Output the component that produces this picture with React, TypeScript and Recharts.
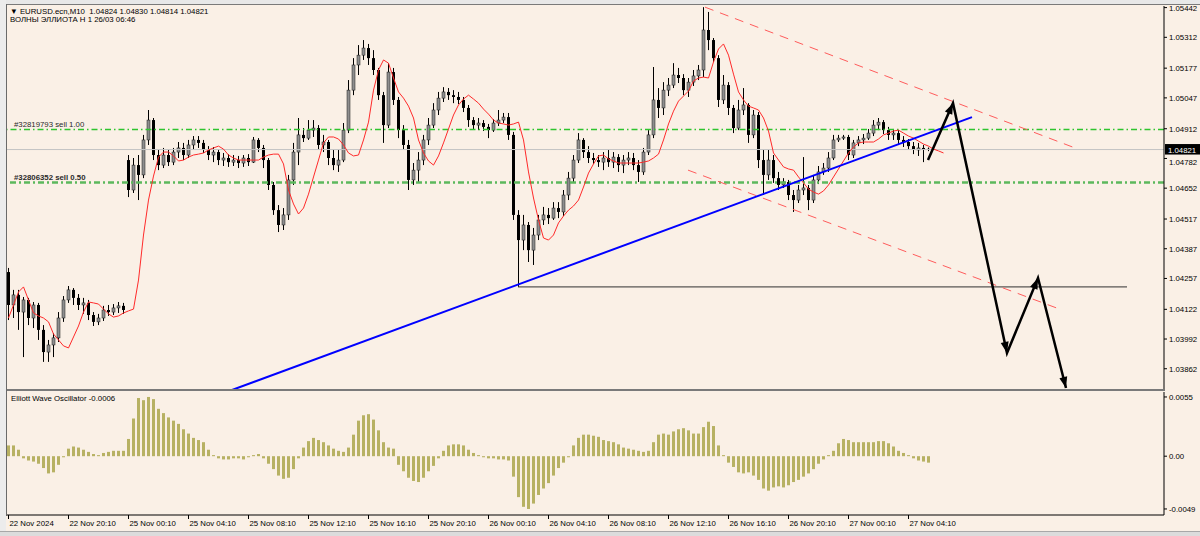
import { Bar, ComposedChart, Line, ReferenceLine, XAxis, YAxis } from "recharts";

const FONT = '"Liberation Sans", Arial, sans-serif';
const BG = "#faf0e6";

// M10 candles, 22 Nov 2024 -> 27 Nov 2024 (index = bar number)
const OPEN = [
  1.04285, 1.04141, 1.04185, 1.0411, 1.04163, 1.04084, 1.04141, 1.04032, 1.03935, 1.03966,
  1.03997, 1.04084, 1.04163, 1.04207, 1.04172, 1.04141, 1.0415, 1.04097, 1.04067, 1.04084,
  1.04119, 1.0411, 1.04128, 1.04137, 1.04775, 1.04644, 1.04753, 1.0471, 1.04863, 1.0495,
  1.04797, 1.04753, 1.04797, 1.04766, 1.0481, 1.04828, 1.04797, 1.04841, 1.04863, 1.0485,
  1.04819, 1.04797, 1.0481, 1.04775, 1.04784, 1.04766, 1.04775, 1.04762, 1.04784, 1.04766,
  1.04863, 1.04828, 1.04775, 1.04666, 1.04556, 1.04491, 1.04535, 1.04688, 1.0481, 1.04885,
  1.04871, 1.04906, 1.04915, 1.04841, 1.04854, 1.04784, 1.04753, 1.04775, 1.04906, 1.05081,
  1.05191, 1.05234, 1.05265, 1.05221, 1.05169, 1.05059, 1.04928, 1.0516, 1.05038, 1.04906,
  1.04841, 1.04688, 1.04731, 1.04775, 1.04863, 1.04928, 1.04994, 1.05046, 1.05073, 1.05059,
  1.05051, 1.05038, 1.05003, 1.0495, 1.04928, 1.04937, 1.0492, 1.04906, 1.04937, 1.0495,
  1.04963, 1.04885, 1.04535, 1.04425, 1.04491, 1.04381, 1.04447, 1.04513, 1.04535, 1.04521,
  1.04565, 1.04548, 1.04622, 1.04696, 1.04775, 1.04863, 1.0481, 1.04784, 1.04775, 1.04766,
  1.04784, 1.04766, 1.04788, 1.04753, 1.04775, 1.04784, 1.04753, 1.04723, 1.0481, 1.04885,
  1.05038, 1.05003, 1.05081, 1.05103, 1.05147, 1.05134, 1.05081, 1.05116, 1.05143, 1.05169,
  1.05344, 1.053, 1.05221, 1.05038, 1.05103, 1.05003, 1.04915, 1.04994, 1.05016, 1.04885,
  1.04972, 1.04775, 1.0471, 1.04775, 1.04696, 1.04666, 1.04679, 1.04622, 1.046, 1.04644,
  1.04653, 1.046, 1.04688, 1.04723, 1.0474, 1.04784, 1.04863, 1.04871, 1.04876, 1.04797,
  1.0485, 1.04863, 1.04871, 1.04893, 1.04928, 1.04941, 1.04906, 1.04885, 1.04893, 1.04863,
  1.04854, 1.04836, 1.04819, 1.04828, 1.04824,
];

const HIGH = [
  1.04303, 1.04207, 1.04207, 1.04176, 1.04172, 1.04154, 1.0415, 1.04053, 1.03988, 1.04018,
  1.0411, 1.0418, 1.04224, 1.04215, 1.04189, 1.04172, 1.04163, 1.0411, 1.04102, 1.04137,
  1.04141, 1.04145, 1.04154, 1.0415, 1.04797, 1.04784, 1.04797, 1.04885, 1.04994, 1.04959,
  1.04819, 1.04828, 1.04819, 1.04828, 1.04854, 1.0485, 1.04863, 1.0488, 1.0488, 1.04863,
  1.04836, 1.04832, 1.04823, 1.04806, 1.04801, 1.04797, 1.04793, 1.04797, 1.04801, 1.04876,
  1.04871, 1.04841, 1.04784, 1.04679, 1.04578, 1.04565, 1.0471, 1.0485, 1.04959, 1.04915,
  1.0495, 1.0495, 1.04928, 1.04885, 1.04863, 1.04819, 1.04819, 1.04937, 1.05125, 1.05221,
  1.05278, 1.053, 1.05283, 1.05256, 1.05178, 1.05073, 1.05199, 1.05178, 1.05051, 1.04928,
  1.04863, 1.04762, 1.0481, 1.04885, 1.04959, 1.05024, 1.05073, 1.05094, 1.0509, 1.05081,
  1.05073, 1.05051, 1.05016, 1.04963, 1.04959, 1.0495, 1.04933, 1.04954, 1.04994, 1.04981,
  1.04981, 1.04898, 1.04556, 1.04535, 1.04504, 1.04478, 1.04535, 1.0457, 1.04565, 1.04591,
  1.04591, 1.04644, 1.04723, 1.04797, 1.04893, 1.04871, 1.04836, 1.04806, 1.04797, 1.0481,
  1.04819, 1.0481, 1.04801, 1.04797, 1.0481, 1.04806, 1.04775, 1.04828, 1.04906, 1.05182,
  1.0509, 1.05116, 1.05134, 1.05199, 1.05178, 1.05151, 1.05134, 1.05169, 1.05191, 1.05444,
  1.05423, 1.05309, 1.05234, 1.05147, 1.05116, 1.05016, 1.05038, 1.0509, 1.05024, 1.04994,
  1.04985, 1.04819, 1.04819, 1.04797, 1.04723, 1.04696, 1.04688, 1.04644, 1.04666, 1.04788,
  1.04666, 1.0471, 1.04749, 1.04762, 1.0481, 1.04885, 1.04885, 1.04885, 1.04885, 1.04863,
  1.0488, 1.04889, 1.04911, 1.0495, 1.04959, 1.0495, 1.0492, 1.04911, 1.04906, 1.0488,
  1.04867, 1.04854, 1.0485, 1.04841, 1.0483,
];

const LOW = [
  1.04075, 1.04084, 1.04032, 1.03913, 1.04053, 1.0404, 1.03988, 1.03892, 1.03892, 1.03913,
  1.03979, 1.04067, 1.0415, 1.04141, 1.04119, 1.04102, 1.04075, 1.04049, 1.04053, 1.04071,
  1.04093, 1.04097, 1.04106, 1.04102, 1.04613, 1.04631, 1.046, 1.04696, 1.04841, 1.04775,
  1.04731, 1.0474, 1.04749, 1.04753, 1.04784, 1.04775, 1.04784, 1.04819, 1.04828, 1.04806,
  1.04775, 1.04766, 1.04753, 1.04749, 1.04745, 1.04749, 1.0474, 1.04745, 1.04749, 1.04762,
  1.0481, 1.0474, 1.04644, 1.04535, 1.0446, 1.04469, 1.04513, 1.04666, 1.04753, 1.04854,
  1.04863, 1.04876, 1.04819, 1.0481, 1.04753, 1.04731, 1.04723, 1.04766, 1.04893, 1.05059,
  1.05147, 1.05213, 1.05191, 1.05147, 1.05038, 1.0485, 1.04915, 1.05016, 1.04871, 1.04819,
  1.04644, 1.04666, 1.04675, 1.04753, 1.04841, 1.04915, 1.04972, 1.05029, 1.05038, 1.05024,
  1.0502, 1.04985, 1.0492, 1.04911, 1.04906, 1.04902, 1.04871, 1.04898, 1.04924, 1.04937,
  1.04863, 1.04513, 1.0422, 1.04381, 1.04329, 1.04316, 1.04425, 1.04491, 1.04495, 1.04513,
  1.04521, 1.0453, 1.046, 1.04679, 1.04762, 1.04784, 1.04762, 1.04758, 1.04745, 1.04731,
  1.04745, 1.0474, 1.04723, 1.04718, 1.04753, 1.04731, 1.04679, 1.0471, 1.04797, 1.04871,
  1.04959, 1.04972, 1.05055, 1.0509, 1.05112, 1.05059, 1.05051, 1.05099, 1.05125, 1.05138,
  1.05256, 1.05204, 1.05007, 1.0502, 1.04972, 1.04893, 1.04906, 1.04972, 1.0485, 1.04871,
  1.0474, 1.04622, 1.04688, 1.04675, 1.04644, 1.04653, 1.046, 1.04548, 1.04587, 1.04622,
  1.04556, 1.04587, 1.0467, 1.0471, 1.04723, 1.04775, 1.04854, 1.04863, 1.04775, 1.04784,
  1.04836, 1.04845, 1.04863, 1.0488, 1.04906, 1.04889, 1.04863, 1.04863, 1.04845, 1.04832,
  1.04819, 1.04801, 1.04793, 1.04766, 1.04814,
];

const CLOSE = [
  1.04141, 1.04185, 1.0411, 1.04163, 1.04084, 1.04141, 1.04032, 1.03935, 1.03966, 1.03997,
  1.04084, 1.04163, 1.04207, 1.04172, 1.04141, 1.0415, 1.04097, 1.04067, 1.04084, 1.04119,
  1.0411, 1.04128, 1.04137, 1.04119, 1.04644, 1.04753, 1.0471, 1.04863, 1.0495, 1.04797,
  1.04753, 1.04797, 1.04766, 1.0481, 1.04828, 1.04797, 1.04841, 1.04863, 1.0485, 1.04819,
  1.04797, 1.0481, 1.04775, 1.04784, 1.04766, 1.04775, 1.04762, 1.04784, 1.04766, 1.04863,
  1.04828, 1.04775, 1.04666, 1.04556, 1.04491, 1.04535, 1.04688, 1.0481, 1.04885, 1.04871,
  1.04906, 1.04915, 1.04841, 1.04854, 1.04784, 1.04753, 1.04775, 1.04906, 1.05081, 1.05191,
  1.05234, 1.05265, 1.05221, 1.05169, 1.05059, 1.04928, 1.0516, 1.05038, 1.04906, 1.04841,
  1.04688, 1.04731, 1.04775, 1.04863, 1.04928, 1.04994, 1.05046, 1.05073, 1.05059, 1.05051,
  1.05038, 1.05003, 1.0495, 1.04928, 1.04937, 1.0492, 1.04906, 1.04937, 1.0495, 1.04963,
  1.04885, 1.04535, 1.04425, 1.04491, 1.04381, 1.04447, 1.04513, 1.04535, 1.04521, 1.04565,
  1.04548, 1.04622, 1.04696, 1.04775, 1.04863, 1.0481, 1.04784, 1.04775, 1.04766, 1.04784,
  1.04766, 1.04788, 1.04753, 1.04775, 1.04784, 1.04753, 1.04723, 1.0481, 1.04885, 1.05038,
  1.05003, 1.05081, 1.05103, 1.05147, 1.05134, 1.05081, 1.05116, 1.05143, 1.05169, 1.05344,
  1.053, 1.05221, 1.05038, 1.05103, 1.05003, 1.04915, 1.04994, 1.05016, 1.04885, 1.04972,
  1.04775, 1.0471, 1.04775, 1.04696, 1.04666, 1.04679, 1.04622, 1.046, 1.04644, 1.04653,
  1.046, 1.04688, 1.04723, 1.0474, 1.04784, 1.04863, 1.04871, 1.04876, 1.04797, 1.0485,
  1.04863, 1.04871, 1.04893, 1.04928, 1.04941, 1.04906, 1.04885, 1.04893, 1.04863, 1.04854,
  1.04836, 1.04819, 1.04828, 1.04819, 1.04821,
];

// red moving average (shifted, runs a few bars past the last candle)
const MA = [
  1.04084, 1.04141, 1.04198, 1.0422, 1.04163, 1.04106, 1.04093, 1.04084, 1.04067, 1.04014,
  1.03988, 1.03962, 1.03953, 1.04001, 1.04049, 1.0411, 1.04154, 1.0415, 1.04145, 1.04123,
  1.04102, 1.04088, 1.04093, 1.04106, 1.04115, 1.04123, 1.0425, 1.04447, 1.046, 1.04705,
  1.04788, 1.0481, 1.0481, 1.04793, 1.04771, 1.04775, 1.04788, 1.04797, 1.04801, 1.04806,
  1.04819, 1.04828, 1.04836, 1.04823, 1.04797, 1.04784, 1.04775, 1.04775, 1.04775, 1.04775,
  1.04775, 1.04788, 1.04797, 1.04801, 1.04801, 1.04758, 1.04644, 1.04583, 1.04539, 1.04565,
  1.04626, 1.04701, 1.04775, 1.0485, 1.04876, 1.04876, 1.04867, 1.04841, 1.04806, 1.04793,
  1.04797, 1.04863, 1.04941, 1.05081, 1.05169, 1.05213, 1.05199, 1.05134, 1.05073, 1.05046,
  1.05011, 1.04959, 1.04863, 1.04806, 1.04771, 1.04753, 1.04793, 1.0485, 1.04911, 1.04972,
  1.05016, 1.05042, 1.05059, 1.05042, 1.05024, 1.04998, 1.04976, 1.0495, 1.04937, 1.04933,
  1.04928, 1.04933, 1.04941, 1.04863, 1.04723, 1.04609, 1.04513, 1.04434, 1.04425, 1.04447,
  1.045, 1.0453, 1.04556, 1.04574, 1.046, 1.04657, 1.04718, 1.04758, 1.04793, 1.04797,
  1.0478, 1.04771, 1.04762, 1.04762, 1.04762, 1.04762, 1.04762, 1.04766, 1.04771, 1.04784,
  1.04801, 1.04863, 1.04933, 1.04989, 1.05033, 1.05055, 1.05077, 1.05121, 1.05134, 1.05138,
  1.05134, 1.05204, 1.05261, 1.05283, 1.05234, 1.05151, 1.05073, 1.05038, 1.05011, 1.05003,
  1.04994, 1.04959, 1.04902, 1.04806, 1.04775, 1.04745, 1.04736, 1.04731, 1.04701, 1.04675,
  1.04648, 1.04635, 1.04626, 1.0464, 1.04666, 1.04701, 1.04736, 1.04771, 1.04806, 1.04832,
  1.0485, 1.04854, 1.04854, 1.04854, 1.04867, 1.04885, 1.04893, 1.04902, 1.04906, 1.04893,
  1.0488, 1.04871, 1.04858, 1.04845, 1.04836, 1.04823, 1.04815, 1.04806,
];

// Elliott Wave Oscillator histogram
const EWO = [
  0.001, 0.001, 0.0006, -0.0002, -0.0004, -0.0005, -0.0007, -0.0011, -0.0016, -0.0015,
  -0.0008, -0.0001, 0.0007, 0.0009, 0.0008, 0.0006, 0.0004, 0.0002, 0.0001, 0.0003,
  0.0004, 0.0005, 0.0005, 0.0005, 0.0016, 0.0035, 0.0054, 0.0052, 0.0055, 0.0053,
  0.0044, 0.004, 0.0036, 0.0033, 0.003, 0.0025, 0.0021, 0.0017, 0.0015, 0.0013,
  0.0006, 0.0001, -0.0002, -0.0003, -0.0003, -0.0002, -0.0002, -0.0003, -0.0001, 0.0001,
  0.0002, -0.0002, -0.0007, -0.0012, -0.0018, -0.0021, -0.002, -0.0012, -0.0002, 0.0008,
  0.0014, 0.0017, 0.0015, 0.0013, 0.001, 0.0007, 0.0005, 0.0004, 0.0008, 0.002,
  0.0033, 0.0038, 0.0039, 0.0034, 0.0024, 0.0013, 0.0008, 0.0007, -0.0008, -0.0014,
  -0.002, -0.0023, -0.0024, -0.002, -0.0014, -0.0009, -0.0002, 0.0005, 0.001, 0.0011,
  0.0011, 0.001, 0.0006, 0.0003, 0.0001, -0.0001, -0.0002, -0.0002, -0.0003, -0.0003,
  -0.0004, -0.0019, -0.0038, -0.0047, -0.0049, -0.0044, -0.0036, -0.003, -0.0025, -0.0018,
  -0.0011, -0.0006, -0.0001, 0.001, 0.0017, 0.002, 0.002, 0.0019, 0.0018, 0.0015,
  0.0014, 0.0013, 0.0011, 0.0008, 0.0007, 0.0006, 0.0005, 0.0004, 0.0005, 0.0013,
  0.002, 0.0021, 0.002, 0.0023, 0.0025, 0.0026, 0.0024, 0.0021, 0.0021, 0.0027,
  0.0032, 0.0028, 0.001, 0.0001, -0.0006, -0.001, -0.0015, -0.0016, -0.0015, -0.0018,
  -0.0022, -0.003, -0.0032, -0.0029, -0.0028, -0.0029, -0.0027, -0.0024, -0.0022, -0.0019,
  -0.0016, -0.0012, -0.0007, -0.0003, 0.0001, 0.0005, 0.0012, 0.0016, 0.0015, 0.0013,
  0.0013, 0.0013, 0.0013, 0.0013, 0.0014, 0.0014, 0.0012, 0.0009, 0.0005, 0.0003,
  0.0001, -0.0002, -0.0004, -0.0005, -0.0006,
];

const TIME_TICKS = [0, 12, 24, 36, 48, 60, 72, 84, 96, 108, 120, 132, 144, 156, 168, 180];
const TIME_LABELS = [
  "22 Nov 2024", "22 Nov 20:10", "25 Nov 00:10", "25 Nov 04:10", "25 Nov 08:10", "25 Nov 12:10",
  "25 Nov 16:10", "25 Nov 20:10", "26 Nov 00:10", "26 Nov 04:10", "26 Nov 08:10", "26 Nov 12:10",
  "26 Nov 16:10", "26 Nov 20:10", "27 Nov 00:10", "27 Nov 04:10",
];

const PRICE_TICKS = [
  1.05442, 1.05312, 1.05177, 1.05047, 1.04912, 1.04782, 1.04652, 1.04517, 1.04387, 1.04257,
  1.04122, 1.03992, 1.03862,
];
const EWO_TICKS = [0.0055, 0, -0.0049];

// drawn objects (bar index, price)
const TREND_I = [44.7, 192.7];
const TREND_P = [1.03769, 1.04963];
const CHANNEL_HI_I = [139.3, 213.3];
const CHANNEL_HI_P = [1.05444, 1.04828];
const CHANNEL_LO_I = [135.9, 210.7];
const CHANNEL_LO_P = [1.04731, 1.04119];
const SUPPORT_I = [101.9, 223.7];
const SUPPORT_P = [1.0422, 1.0422];
const WAVE_I = [183.9, 188.9, 199.7, 205.9, 211.5];
const WAVE_P = [1.04775, 1.05024, 1.03931, 1.04259, 1.03778];
const ORDER_LEVELS = [1.04909, 1.04677];
const ORDER_LABELS = ["#32819793 sell 1.00", "#32806352 sell 0.50"];

const X_DOMAIN: [number, number] = [-0.3, 231.1];
const PRICE_DOMAIN: [number, number] = [1.03769, 1.05449];
const EWO_DOMAIN: [number, number] = [-0.00546, 0.00596];

const candles = OPEN.map((o, i) => ({
  i,
  open: o,
  high: HIGH[i],
  low: LOW[i],
  close: CLOSE[i],
  range: [LOW[i], HIGH[i]],
}));
const maRows = MA.map((v, i) => ({ i, ma: v }));
const ewoRows = EWO.map((v, i) => ({ i, ewo: v }));
const toRows = (xs: number[], ps: number[]) => xs.map((x, k) => ({ i: x, p: ps[k] }));
const lastPrice = CLOSE[CLOSE.length - 1];

function Candle(props: any) {
  const { x, y, width, height } = props;
  const row = props.payload ?? props;
  const top = Math.min(y, y + height);
  const bottom = Math.max(y, y + height);
  const span = row.high - row.low;
  const toY = (v: number) => (span > 0 ? top + ((row.high - v) / span) * (bottom - top) : top);
  const cx = Math.floor(x + width / 2) + 0.5;
  const yo = toY(row.open);
  const yc = toY(row.close);
  const up = row.close >= row.open;
  return (
    <g>
      <line x1={cx} x2={cx} y1={top} y2={Math.max(bottom, top + 1)} stroke="#000" strokeWidth={1} />
      <rect
        x={cx - 1.5}
        y={Math.min(yo, yc)}
        width={3}
        height={Math.max(Math.abs(yc - yo), 1)}
        fill={up ? "#8e8e8e" : "#000"}
        stroke={up ? "#1a1a1a" : "none"}
        strokeWidth={0.5}
      />
    </g>
  );
}

function ArrowHead(props: any) {
  const { cx, cy, index, points } = props;
  const prev = points && index > 0 ? points[index - 1] : null;
  if (!prev) return <g key={`ah-${index}`} />;
  const ang = Math.atan2(cy - prev.y, cx - prev.x);
  const len = 11;
  const half = 4;
  const bx = cx - len * Math.cos(ang);
  const by = cy - len * Math.sin(ang);
  const nx = -Math.sin(ang) * half;
  const ny = Math.cos(ang) * half;
  return (
    <polygon
      key={`ah-${index}`}
      points={`${cx},${cy} ${bx + nx},${by + ny} ${bx - nx},${by - ny}`}
      fill="#000"
    />
  );
}

function PriceTick(props: any) {
  const { x, y, payload } = props;
  const shift = payload.value === 1.04782 ? 4 : 0;
  return (
    <text x={x} y={y + shift} dy={2.9} fontSize={7.8} fill="#000" fontFamily={FONT}>
      {payload.value.toFixed(5)}
    </text>
  );
}

function EwoTick(props: any) {
  const { x, y, payload } = props;
  const v = payload.value;
  const label = v === 0 ? "0.00" : v.toFixed(4);
  return (
    <text x={x} y={y} dy={2.9} fontSize={7.8} fill="#000" fontFamily={FONT}>
      {label}
    </text>
  );
}

function TimeTick(props: any) {
  const { x, y, payload } = props;
  const k = TIME_TICKS.indexOf(payload.value);
  return (
    <text x={x + 1} y={y} dy={4.5} fontSize={7.8} fill="#000" fontFamily={FONT}>
      {TIME_LABELS[k]}
    </text>
  );
}

function PriceTag(props: any) {
  const vb = props.viewBox;
  if (!vb) return null;
  const left = vb.x + vb.width + 1;
  return (
    <g>
      <rect x={left} y={vb.y - 5.5} width={35} height={10.5} fill="#000" />
      <text x={left + 3} y={vb.y + 3} fontSize={7.8} fill="#fff" fontFamily={FONT}>
        {lastPrice.toFixed(5)}
      </text>
    </g>
  );
}

function LevelLabel(props: any) {
  const vb = props.viewBox;
  if (!vb) return null;
  return (
    <text
      x={vb.x + 7}
      y={vb.y - 2}
      fontSize={7.8}
      fill="#2a2a2a"
      fontWeight={props.bold ? 700 : 400}
      fontFamily={FONT}
    >
      {props.text}
    </text>
  );
}

export default function App() {
  return (
    <div
      style={{
        position: "absolute",
        left: 0,
        top: 0,
        width: 1200,
        height: 536,
        background: BG,
        fontFamily: FONT,
        overflow: "hidden",
      }}
    >
      <div style={{ position: "absolute", left: 0, top: 0 }}>
        <ComposedChart
          width={1200}
          height={392}
          data={candles}
          margin={{ top: 6, right: 0, bottom: 2, left: 7 }}
        >
          <XAxis type="number" dataKey="i" domain={X_DOMAIN} allowDataOverflow hide />
          <YAxis
            orientation="right"
            width={36}
            domain={PRICE_DOMAIN}
            allowDataOverflow
            ticks={PRICE_TICKS}
            interval={0}
            tickSize={3}
            tickLine={{ stroke: "#000" }}
            axisLine={{ stroke: "#000" }}
            tick={<PriceTick />}
          />
          <ReferenceLine y={lastPrice} stroke="#c4c4c4" label={<PriceTag />} />
          <ReferenceLine
            y={ORDER_LEVELS[0]}
            stroke="#2ec42e"
            strokeWidth={1.4}
            strokeDasharray="6 3 1.5 3"
            label={<LevelLabel text={ORDER_LABELS[0]} />}
          />
          <ReferenceLine
            y={ORDER_LEVELS[1]}
            stroke="#5cb85c"
            strokeWidth={2.5}
            strokeDasharray="6 3 2 3"
            label={<LevelLabel text={ORDER_LABELS[1]} bold />}
          />
          <Bar dataKey="range" barSize={3} shape={Candle} isAnimationActive={false} />
          <Line
            data={maRows}
            dataKey="ma"
            type="linear"
            stroke="#ff2a2a"
            strokeWidth={1}
            dot={false}
            isAnimationActive={false}
          />
          <Line
            data={toRows(SUPPORT_I, SUPPORT_P)}
            dataKey="p"
            stroke="#303030"
            strokeWidth={1}
            dot={false}
            isAnimationActive={false}
          />
          <Line
            data={toRows(CHANNEL_HI_I, CHANNEL_HI_P)}
            dataKey="p"
            stroke="#ff5c5c"
            strokeWidth={1}
            strokeDasharray="9 7"
            dot={false}
            isAnimationActive={false}
          />
          <Line
            data={toRows(CHANNEL_LO_I, CHANNEL_LO_P)}
            dataKey="p"
            stroke="#ff5c5c"
            strokeWidth={1}
            strokeDasharray="9 7"
            dot={false}
            isAnimationActive={false}
          />
          <Line
            data={toRows(TREND_I, TREND_P)}
            dataKey="p"
            stroke="#0000ff"
            strokeWidth={2}
            dot={false}
            isAnimationActive={false}
          />
          <Line
            data={toRows(WAVE_I, WAVE_P)}
            dataKey="p"
            stroke="#000"
            strokeWidth={2.5}
            dot={ArrowHead}
            isAnimationActive={false}
          />
        </ComposedChart>
      </div>

      <div style={{ position: "absolute", left: 0, top: 392 }}>
        <ComposedChart
          width={1200}
          height={144}
          data={ewoRows}
          margin={{ top: 0, right: 0, bottom: 0, left: 7 }}
        >
          <XAxis
            type="number"
            dataKey="i"
            domain={X_DOMAIN}
            allowDataOverflow
            ticks={TIME_TICKS}
            interval={0}
            height={21}
            tickSize={4}
            tickLine={{ stroke: "#000" }}
            axisLine={{ stroke: "#000" }}
            tick={<TimeTick />}
          />
          <YAxis
            orientation="right"
            width={36}
            domain={EWO_DOMAIN}
            allowDataOverflow
            ticks={EWO_TICKS}
            interval={0}
            tickSize={3}
            tickLine={{ stroke: "#000" }}
            axisLine={{ stroke: "#000" }}
            tick={<EwoTick />}
          />
          <Bar dataKey="ewo" barSize={3} fill="#b7b163" isAnimationActive={false} />
        </ComposedChart>
      </div>

      {/* window frame */}
      <div style={{ position: "absolute", left: 0, top: 0, width: 1200, height: 4, background: "#e8e8e8", borderBottom: "1px solid #7a7a7a" }} />
      <div style={{ position: "absolute", left: 0, top: 0, width: 6, height: 536, background: "#ececec" }} />
      <div style={{ position: "absolute", left: 6, top: 4, width: 1, height: 512, background: "#6a6a6a" }} />
      <div style={{ position: "absolute", left: 7, top: 389, width: 1158, height: 2, background: "#7a7a7a" }} />
      <div style={{ position: "absolute", left: 0, top: 531, width: 1200, height: 5, background: "#dcdcdc", borderTop: "1px solid #a8a8a8" }} />

      {/* chart texts */}
      <div style={{ position: "absolute", left: 10, top: 7, fontSize: 7.8, lineHeight: "9px", whiteSpace: "pre", color: "#000" }}>
        {"▼ EURUSD.ecn,M10  1.04824 1.04830 1.04814 1.04821"}
      </div>
      <div style={{ position: "absolute", left: 10, top: 15, fontSize: 7.8, lineHeight: "9px", whiteSpace: "pre", color: "#000" }}>
        ВОЛНЫ ЭЛЛИОТА Н 1 26/03 06:46
      </div>
      <div style={{ position: "absolute", left: 11, top: 394, fontSize: 7.8, lineHeight: "9px", whiteSpace: "pre", color: "#000" }}>
        Elliott Wave Oscillator -0.0006
      </div>
    </div>
  );
}
